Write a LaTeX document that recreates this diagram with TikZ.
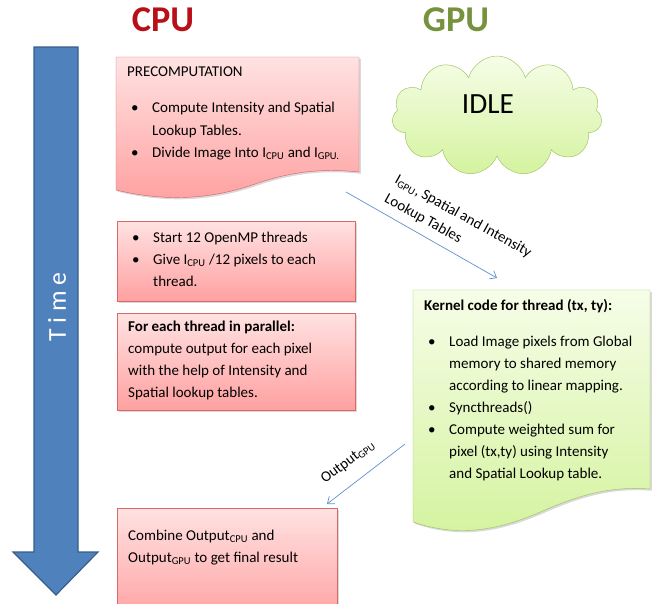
\documentclass[tikz,border=0pt]{standalone}
\usepackage{fontspec}
\setmainfont{Carlito}
\usetikzlibrary{arrows.meta,shadows,shapes.symbols}

\definecolor{cpured}{RGB}{185,15,25}
\definecolor{gpugreen}{RGB}{118,146,60}
\definecolor{timeblue}{RGB}{79,129,189}
\definecolor{timeline}{RGB}{56,93,138}
\definecolor{redtop}{RGB}{255,226,226}
\definecolor{redbot}{RGB}{255,160,160}
\definecolor{redline}{RGB}{215,105,105}
\definecolor{greentop}{RGB}{246,253,232}
\definecolor{greenbot}{RGB}{212,243,158}
\definecolor{greenline}{RGB}{160,195,100}
\definecolor{flowblue}{RGB}{95,145,205}

\tikzset{
  redbox/.style={draw=redline, top color=redtop, bottom color=redbot,
    drop shadow={opacity=0.3, shadow xshift=1.5pt, shadow yshift=-1.5pt}},
  greenbox/.style={draw=greenline, top color=greentop, bottom color=greenbot,
    drop shadow={opacity=0.3, shadow xshift=1.5pt, shadow yshift=-1.5pt}},
  txt/.style={anchor=north west, inner sep=0pt, align=left,
    font=\fontsize{12.8}{18.8}\selectfont},
  lbl/.style={inner sep=0pt, align=left, font=\fontsize{12.8}{18.3}\selectfont},
  title/.style={font=\fontsize{31}{36}\selectfont\bfseries},
  flow/.style={draw=flowblue, line width=0.6pt,
    -{Straight Barb[length=5pt,width=8pt]}}
}
\newcommand{\bul}{\hspace*{0.12cm}\makebox[0.63cm][l]{\textbullet}}
\newcommand{\ind}{\hspace*{0.75cm}}
\newcommand{\lo}[1]{\textsubscript{#1}}

\begin{document}
\begin{tikzpicture}[x=0.03cm,y=-0.03cm]
  \useasboundingbox (0,0) rectangle (659,603);

  \node[title, text=cpured] (cpu) at (163,20) {CPU};
  \node[title, text=gpugreen] (gpu) at (456,20) {GPU};

  % time axis
  \path[fill=timeblue, draw=timeline, line width=1pt]
    (34,47) -- (78,47) -- (78,552) -- (98,552) -- (56,595) -- (13,552) -- (34,552) -- cycle;
  \node[rotate=90, text=white, font=\fontsize{22}{26}\selectfont] (time) at (57,307) {T i m e};

  % CPU side
  \path[redbox] (116,57) -- (359,57) -- (359,172)
    .. controls (320,168) and (290,172) .. (255,184)
    .. controls (215,198) and (170,203) .. (116,190) -- cycle;
  \node[txt] (precomp) at (127,67) {PRECOMPUTATION\\[0.42cm]
    \bul Compute Intensity and Spatial\\
    \ind Lookup Tables.\\
    \bul Divide Image Into I\lo{CPU} and I\lo{GPU.}};

  \node[redbox, anchor=north west, minimum width=7.14cm, minimum height=2.4cm] (threads) at (117,221) {};
  \node[txt] (threadstxt) at (128,232) {\bul Start 12 OpenMP threads\\
    \bul Give I\lo{CPU} /12 pixels to each\\
    \ind thread.};

  \node[redbox, anchor=north west, minimum width=7.14cm, minimum height=2.91cm] (parallel) at (117,313) {};
  \node[txt] (paralleltxt) at (128,321) {\textbf{For each thread in parallel:}\\
    compute output for each pixel\\
    with the help of Intensity and\\
    Spatial lookup tables.};

  \node[redbox, anchor=north west, minimum width=6.6cm, minimum height=3.4cm] (combine) at (117,508) {};
  \node[txt] (combinetxt) at (128,530) {Combine Output\lo{CPU} and\\
    Output\lo{GPU} to get final result};

  % GPU side
  \node[cloud, cloud puffs=11, aspect=1.75, draw=greenline, top color=greentop, bottom color=greenbot,
    minimum width=6.3cm, minimum height=3.6cm] (idle) at (497,116) {};
  \node[font=\fontsize{25}{30}\selectfont] (idletxt) at (488,104) {IDLE};

  \path[greenbox] (413,290) -- (650,290) -- (650,489)
    .. controls (610,486) and (580,495) .. (545,510)
    .. controls (500,530) and (460,538) .. (413,522) -- cycle;
  \node[txt] (kernel) at (424,299) {\textbf{Kernel code for thread (tx, ty):}\\[0.42cm]
    \bul Load Image pixels from Global\\
    \ind memory to shared memory\\
    \ind according to linear mapping.\\
    \bul Syncthreads()\\
    \bul Compute weighted sum for\\
    \ind pixel (tx,ty) using Intensity\\
    \ind and Spatial Lookup table.};

  % transfers
  \coordinate (tosend) at (346,192);
  \coordinate (torecv) at (497,278);
  \draw[flow] (tosend) -- (torecv);
  \node[lbl, rotate=-29] (tolbl) at (458,226) {I\lo{GPU}, Spatial and Intensity\\Lookup Tables};

  \coordinate (backsend) at (405,444);
  \coordinate (backrecv) at (327,504);
  \draw[flow] (backsend) -- (backrecv);
  \node[lbl, rotate=37] (backlbl) at (348,462) {Output\lo{GPU}};
\end{tikzpicture}
\end{document}
